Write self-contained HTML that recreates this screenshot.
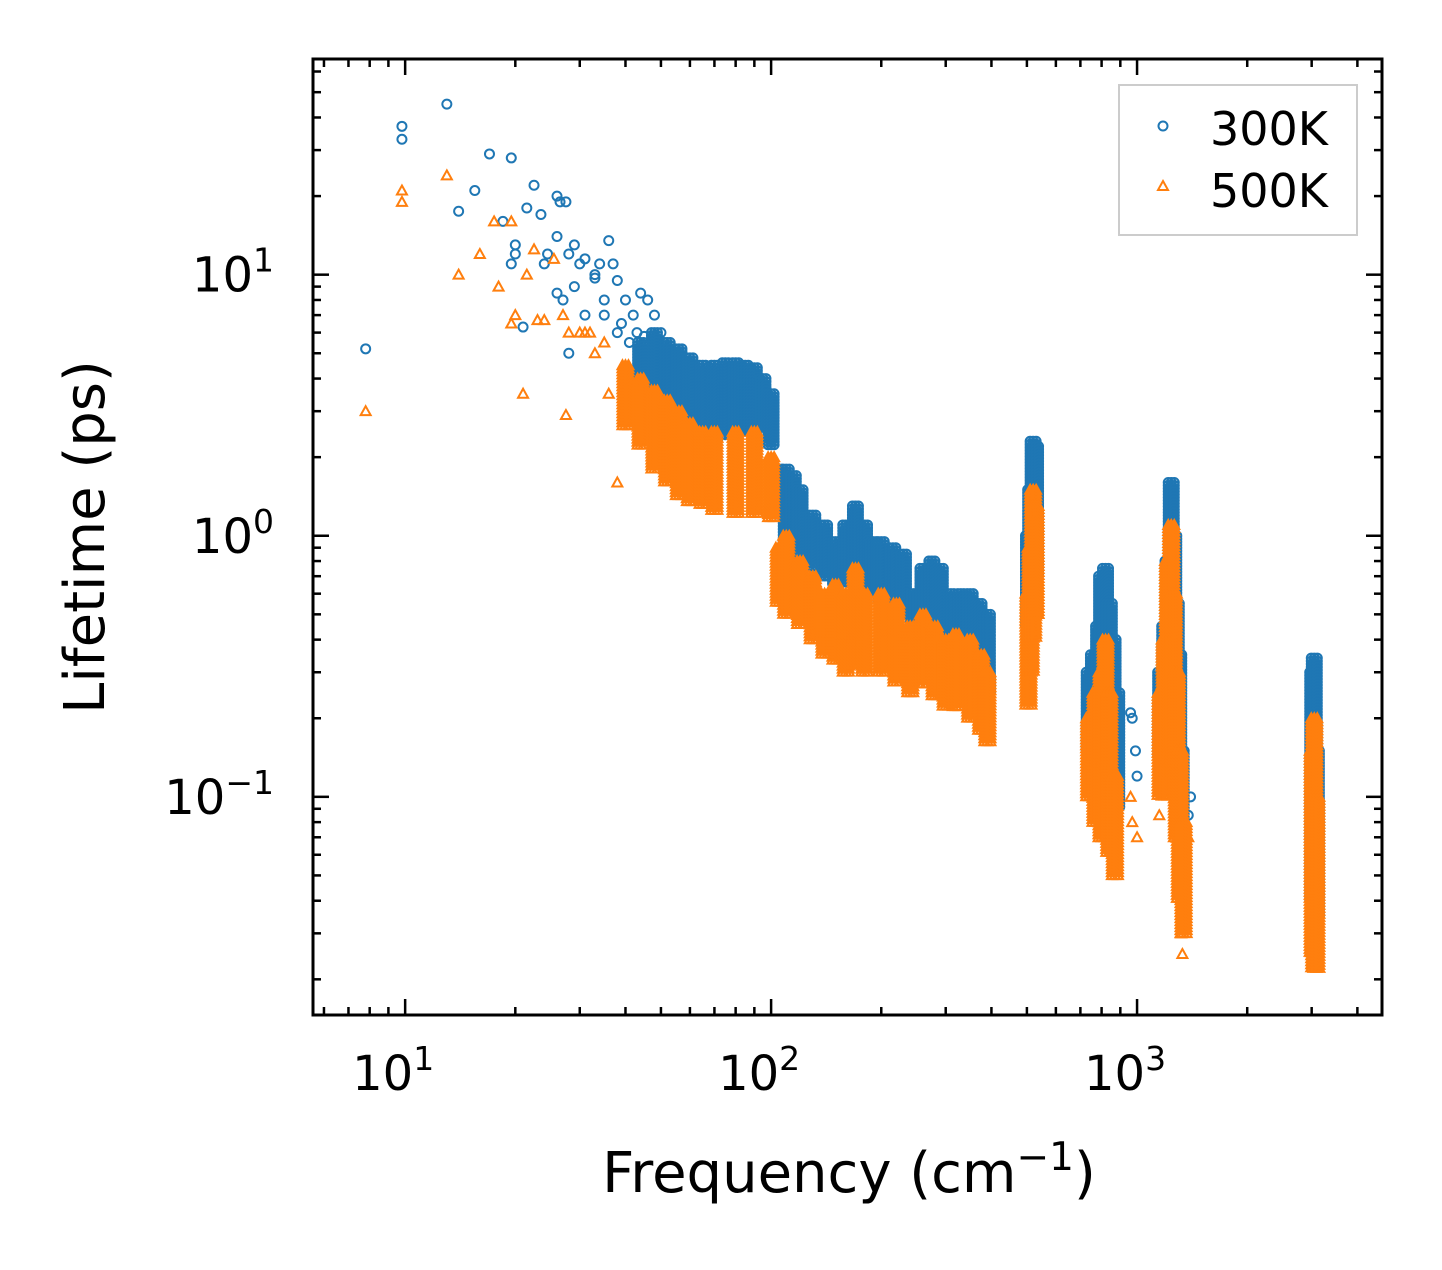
<!DOCTYPE html>
<html><head><meta charset="utf-8"><style>
body{margin:0;background:#fff;}
svg text{font-family:"DejaVu Sans","Liberation Sans",sans-serif;fill:#000;}
</style></head><body>
<svg id="chart" width="1442" height="1265" viewBox="0 0 1442 1265" xmlns="http://www.w3.org/2000/svg">
<g id="marks"></g>
<g id="axes"></g>
<text x="849" y="1192" font-size="56" text-anchor="middle">Frequency (cm<tspan dy="-22" font-size="39">−1</tspan><tspan dy="22">)</tspan></text>
<text transform="translate(104,537) rotate(-90)" font-size="56" text-anchor="middle">Lifetime (ps)</text>
<g>
<rect x="1119" y="85" width="238" height="150" fill="#fff" stroke="#ccc" stroke-width="2"/>
<circle cx="1163" cy="126" r="4.5" fill="none" stroke="#1f77b4" stroke-width="2"/>
<text x="1210" y="145" font-size="46">300K</text>
<polygon points="1163,181 1168,190 1158,190" fill="none" stroke="#ff7f0e" stroke-width="2"/>
<text x="1210" y="207" font-size="46">500K</text>
</g>
</svg>
<script>
const xDomain=[5.6,4670];
const yDomain=[0.0146,67];
const xTickLabels=["1","2","3"];
const yTickLabels=["-1","0","1"];
const pts300=[[7.8,5.2],[9.8,37],[9.8,33],[13,45],[14,17.5],[15.5,21],[17,29],[18.5,16],[19.5,28],[19.5,11],[20,12],[20,13],[21,6.3],[21.5,18],[22.5,22],[23.5,17],[24.5,12],[26,20],[26.5,19],[27.5,19],[26,14],[27,8],[28,5],[28,12],[29,13],[30,11],[31,11.5],[33,10],[34,11],[36,13.5],[37,11],[38,9.5],[40,8],[42,7],[44,8.5],[46,8],[48,7],[50,6],[24,11],[26,8.5],[29,9],[31,7],[35,8],[38,6],[33,9.7],[35,7],[39,6.5],[41,5.5],[43,6],[45,5.8],[960,0.21],[970,0.2],[1000,0.12],[1400,0.1],[1380,0.085],[990,0.15]];
const band300=[[44,3.5,5.5],[48,3,6],[52,2.7,5.5],[56,2.5,5.2],[60,2.3,4.8],[65,2.3,4.5],[70,2.3,4.5],[75,2.4,4.6],[80,2.5,4.6],[85,2.5,4.5],[90,2.5,4.4],[95,2.6,4],[100,2.2,3.5],[105,1.2,1.8],[110,0.9,1.8],[115,0.8,1.7],[120,0.8,1.5],[130,0.75,1.2],[140,0.7,1.1],[150,0.65,0.95],[160,0.65,1.1],[170,0.65,1.3],[180,0.6,1.1],[190,0.6,0.95],[200,0.55,0.95],[215,0.5,0.9],[230,0.5,0.85],[245,0.45,0.6],[260,0.45,0.75],[275,0.42,0.8],[290,0.4,0.75],[310,0.35,0.6],[330,0.35,0.6],[350,0.33,0.6],[370,0.3,0.55],[390,0.25,0.5],[505,0.45,1.0],[512,0.5,1.5],[520,0.6,2.3],[528,0.7,2.2],[740,0.15,0.3],[760,0.14,0.35],[785,0.12,0.45],[800,0.12,0.7],[820,0.12,0.75],[840,0.12,0.55],[860,0.1,0.4],[880,0.09,0.25],[1160,0.14,0.3],[1190,0.14,0.45],[1215,0.15,0.8],[1240,0.2,1.6],[1260,0.2,1.0],[1280,0.15,0.55],[1300,0.08,0.35],[1320,0.05,0.15],[3020,0.04,0.3],[3050,0.035,0.34],[3090,0.035,0.15]];
const pts500=[[7.8,3],[9.8,21],[9.8,19],[13,24],[14,10],[16,12],[17.5,16],[18,9],[19.5,16],[19.5,6.5],[20,7],[21,3.5],[21.5,10],[22.5,12.5],[23,6.7],[24,6.7],[25.5,11.5],[27,7],[27.5,2.9],[28,6],[30,6],[31,6],[33,5],[36,3.5],[38,1.6],[40,4],[42,3],[32,6],[35,5.5],[1150,0.085],[1320,0.03],[1330,0.025],[1380,0.07],[960,0.1],[970,0.08],[1000,0.07]];
const band500=[[40,2.6,4.5],[44,2.2,4],[48,1.8,3.6],[52,1.6,3.3],[56,1.4,3],[60,1.35,2.7],[65,1.3,2.5],[70,1.25,2.5],[80,1.2,2.5],[90,1.2,2.5],[100,1.15,2],[105,0.55,0.9],[110,0.5,1.0],[120,0.45,0.8],[130,0.4,0.7],[140,0.35,0.6],[150,0.33,0.65],[160,0.3,0.6],[170,0.32,0.75],[180,0.3,0.6],[200,0.3,0.6],[220,0.27,0.55],[240,0.25,0.45],[260,0.27,0.5],[280,0.24,0.45],[300,0.22,0.4],[320,0.22,0.42],[350,0.2,0.4],[375,0.18,0.35],[390,0.16,0.3],[505,0.22,0.6],[512,0.3,0.9],[520,0.4,1.5],[528,0.5,1.3],[740,0.1,0.2],[770,0.08,0.25],[800,0.07,0.3],[820,0.07,0.4],[840,0.06,0.25],[870,0.05,0.12],[1160,0.1,0.25],[1190,0.1,0.4],[1215,0.12,0.8],[1240,0.15,1.1],[1260,0.12,0.6],[1285,0.07,0.3],[1310,0.04,0.15],[1340,0.03,0.08],[3020,0.025,0.15],[3050,0.022,0.2],[3090,0.022,0.1]];

const L=313,R=1382,T=59,B=1015;
const NS="http://www.w3.org/2000/svg";
function xs(v){return L+(Math.log10(v)-Math.log10(xDomain[0]))/(Math.log10(xDomain[1])-Math.log10(xDomain[0]))*(R-L);}
function ys(v){return B-(Math.log10(v)-Math.log10(yDomain[0]))/(Math.log10(yDomain[1])-Math.log10(yDomain[0]))*(B-T);}
const marks=document.getElementById('marks');
const axes=document.getElementById('axes');
function mk(tag,attrs,parent){const e=document.createElementNS(NS,tag);for(const k in attrs)e.setAttribute(k,attrs[k]);parent.appendChild(e);return e;}
function marker(type,x,y,g){
  let e;
  if(type==='c'){e=mk('circle',{cx:x,cy:y,r:4.5,fill:'none',stroke:'#1f77b4','stroke-width':2},g);}
  else{e=mk('polygon',{points:`${x},${y-5} ${x+5},${y+4} ${x-5},${y+4}`,fill:'none',stroke:'#ff7f0e','stroke-width':2},g);}
  
  
}
function drawSeries(pts,band,type,name){
  const g=mk('g',{},marks);
  
  
  pts.forEach(p=>marker(type,xs(p[0]),ys(p[1]),g));
  band.forEach(b=>{
    const x=xs(b[0]),y1=ys(b[2]),y2=ys(b[1]);
    for(let dx=-3;dx<=3;dx+=3){for(let y=y1;y<=y2;y+=3){marker(type,x+dx,y,g);}}
  });
}
drawSeries(pts300,band300,'c','series-300k');
drawSeries(pts500,band500,'t','series-500k');

mk('rect',{x:L,y:T,width:R-L,height:B-T,fill:'none',stroke:'#000','stroke-width':3},axes);
for(let d=0;d<=3;d++){for(let m=1;m<=9;m++){const v=m*Math.pow(10,d);if(v<xDomain[0]||v>xDomain[1])continue;
  const x=xs(v),len=m===1?16:8;
  const t1=mk('line',{x1:x,x2:x,y1:B,y2:B-len,stroke:'#000','stroke-width':2.5},axes);
  
  const t2=mk('line',{x1:x,x2:x,y1:T,y2:T+len,stroke:'#000','stroke-width':2.5},axes);
  
}}
xTickLabels.forEach(e=>{const x=xs(Math.pow(10,+e));
  const t=mk('text',{x:x-12,y:1090,'font-size':48,'text-anchor':'middle'},axes);
  
  t.innerHTML=`10<tspan dy="-20" font-size="33">${e}</tspan>`;});
for(let d=-2;d<=1;d++){for(let m=1;m<=9;m++){const v=m*Math.pow(10,d);if(v<yDomain[0]||v>yDomain[1])continue;
  const y=ys(v),len=m===1?16:8;
  const t1=mk('line',{x1:L,x2:L+len,y1:y,y2:y,stroke:'#000','stroke-width':2.5},axes);
  
  const t2=mk('line',{x1:R,x2:R-len,y1:y,y2:y,stroke:'#000','stroke-width':2.5},axes);
  
}}
yTickLabels.forEach(e=>{const y=ys(Math.pow(10,+e));
  const t=mk('text',{x:274,y:y+17,'font-size':48,'text-anchor':'end'},axes);
  
  t.innerHTML=`10<tspan dy="-20" font-size="33">${e==='-1'?'−1':e}</tspan>`;});
</script>
</body></html>
